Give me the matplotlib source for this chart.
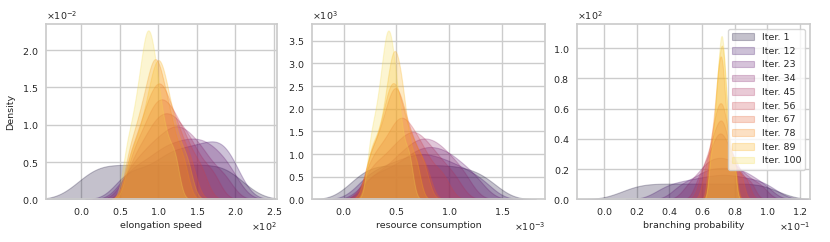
import numpy as np
import matplotlib
matplotlib.use("Agg")
import matplotlib.pyplot as plt
import seaborn as sns
from matplotlib.ticker import MultipleLocator

iterations = [1, 12, 23, 34, 45, 56, 67, 78, 89, 100]

# population samples per iteration
elongation_speed = [
    [5, 22, 40, 58, 76, 94, 112, 130, 148, 166, 184, 200],
    [55, 75, 95, 110, 122, 134, 146, 157, 168, 178, 188, 198],
    [60, 78, 94, 106, 117, 128, 138, 148, 158, 168, 180, 195],
    [62, 78, 90, 100, 110, 118, 126, 134, 143, 153, 165, 185],
    [65, 78, 88, 96, 103, 110, 117, 124, 132, 141, 152, 170],
    [65, 76, 85, 92, 98, 104, 110, 116, 123, 131, 140, 155],
    [63, 74, 82, 88, 94, 99, 104, 109, 115, 122, 130, 142],
    [62, 72, 79, 85, 90, 94, 98, 102, 107, 113, 120, 132],
    [64, 75, 83, 89, 94, 98, 102, 106, 111, 117, 125, 137],
    [59, 68, 74, 79, 83, 86, 89, 93, 97, 102, 110, 121],
]

# in units of 1e-3
resource_consumption = [
    [0.12, 0.24, 0.35, 0.46, 0.57, 0.68, 0.79, 0.90, 1.01, 1.12, 1.24, 1.38],
    [0.20, 0.33, 0.44, 0.54, 0.63, 0.71, 0.79, 0.87, 0.96, 1.06, 1.17, 1.32],
    [0.24, 0.38, 0.50, 0.60, 0.68, 0.75, 0.82, 0.89, 0.96, 1.04, 1.13, 1.26],
    [0.26, 0.40, 0.50, 0.58, 0.65, 0.71, 0.77, 0.83, 0.89, 0.96, 1.04, 1.15],
    [0.24, 0.34, 0.43, 0.50, 0.56, 0.62, 0.67, 0.72, 0.78, 0.85, 0.93, 1.05],
    [0.24, 0.32, 0.39, 0.45, 0.50, 0.54, 0.58, 0.63, 0.68, 0.74, 0.82, 0.94],
    [0.24, 0.31, 0.37, 0.41, 0.45, 0.48, 0.51, 0.54, 0.58, 0.63, 0.69, 0.78],
    [0.24, 0.31, 0.37, 0.41, 0.44, 0.47, 0.50, 0.53, 0.57, 0.62, 0.68, 0.76],
    [0.25, 0.315, 0.37, 0.41, 0.44, 0.465, 0.485, 0.51, 0.535, 0.565, 0.605, 0.685],
    [0.25, 0.30, 0.34, 0.37, 0.395, 0.415, 0.435, 0.455, 0.48, 0.51, 0.55, 0.62],
]

branching_probability = [
    [0.015, 0.023, 0.031, 0.039, 0.047, 0.055, 0.063, 0.071, 0.079, 0.087, 0.095, 0.102],
    [0.036, 0.044, 0.051, 0.057, 0.063, 0.068, 0.073, 0.078, 0.083, 0.089, 0.095, 0.102],
    [0.046, 0.053, 0.059, 0.063, 0.067, 0.071, 0.075, 0.079, 0.083, 0.087, 0.092, 0.099],
    [0.052, 0.058, 0.062, 0.065, 0.068, 0.071, 0.074, 0.077, 0.080, 0.084, 0.089, 0.096],
    [0.0581, 0.0624, 0.0650, 0.0677, 0.0694, 0.0711, 0.0729, 0.0746, 0.0772, 0.0798, 0.0833, 0.0894],
    [0.0598, 0.0633, 0.0659, 0.0677, 0.0694, 0.0711, 0.0724, 0.0737, 0.0755, 0.0781, 0.0816, 0.0868],
    [0.0619, 0.0653, 0.0669, 0.0686, 0.0698, 0.0711, 0.0723, 0.0736, 0.0748, 0.0769, 0.0794, 0.0836],
    [0.0645, 0.0667, 0.0682, 0.0693, 0.0704, 0.0711, 0.0719, 0.0726, 0.0737, 0.0748, 0.0771, 0.0800],
    [0.0653, 0.0675, 0.0690, 0.0697, 0.0708, 0.0716, 0.0723, 0.0731, 0.0738, 0.0749, 0.0764, 0.0794],
    [0.0654, 0.0679, 0.0691, 0.0702, 0.0710, 0.0717, 0.0724, 0.0730, 0.0739, 0.0750, 0.0766, 0.0795],
]

sns.set_theme(style="whitegrid")
plt.rcParams["font.family"] = ["DejaVu Sans"]
FS = 6.8
ALPHA = 0.25

colors = sns.color_palette("inferno", len(iterations))

fig = plt.figure(figsize=(8.3, 2.42), dpi=100)
boxes = [
    [0.0554, 0.1764, 0.2783, 0.7244],
    [0.3759, 0.1764, 0.2807, 0.7244],
    [0.6952, 0.1764, 0.2807, 0.7244],
]
panels = [
    (elongation_speed, 1.0, "elongation speed", (-46, 254), (0, 2.35e-2), 50, 0.5e-2),
    (resource_consumption, 1e-3, "resource consumption", (-0.30e-3, 1.91e-3), (0, 3870), 0.5e-3, 500),
    (branching_probability, 1.0, "branching probability", (-0.0165, 0.1261), (0, 116), 0.02, 20),
]

for k, (box, (samples, scale, xlabel, xlim, ylim, xstep, ystep)) in enumerate(zip(boxes, panels)):
    ax = fig.add_axes(box)
    for it, vals, c in zip(iterations, samples, colors):
        sns.kdeplot(x=np.array(vals) * scale, ax=ax, fill=True, color=c,
                    linewidth=0.8, bw_adjust=0.6, label=f"Iter. {it}")
        # faint outline like the fill
        ax.collections[-1].set_alpha(ALPHA)
    ax.set_xlim(*xlim)
    ax.set_ylim(*ylim)
    ax.xaxis.set_major_locator(MultipleLocator(xstep))
    ax.yaxis.set_major_locator(MultipleLocator(ystep))
    ax.ticklabel_format(style="sci", axis="both", scilimits=(0, 0), useMathText=True)
    ax.tick_params(axis="x", labelsize=FS, length=0, pad=4.5)
    ax.tick_params(axis="y", labelsize=FS, length=0, pad=5.5)
    ax.xaxis.get_offset_text().set_fontsize(FS)
    ax.yaxis.get_offset_text().set_fontsize(FS)
    ax.set_xlabel(xlabel, fontsize=FS, labelpad=3)
    ax.set_ylabel("Density" if k == 0 else "", fontsize=FS, labelpad=5)
    if k == 2:
        ax.legend(loc="upper right", fontsize=FS, handlelength=2.3,
                  labelspacing=0.5, borderpad=0.45, handletextpad=0.8)

fig.savefig("out.png", dpi=100)
